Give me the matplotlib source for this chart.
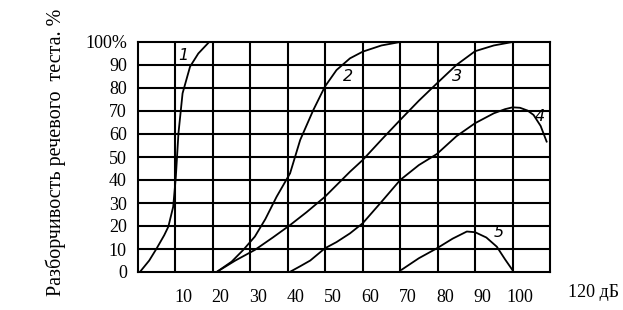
import matplotlib
matplotlib.use("Agg")
import matplotlib.pyplot as plt

# curves (dB, %)
x1 = [0.5, 3, 5, 7, 8.1, 9.4, 10.1, 10.8, 11.9, 13.9, 16.1, 19.0]
y1 = [0, 5, 10.3, 16, 19.7, 28.4, 41.4, 60.3, 77.7, 89.3, 95, 100]

x2 = [21, 25, 28.1, 31.2, 34, 37, 40.6, 43.3, 46.8, 49.9, 53, 56.6, 60, 65, 70]
y2 = [0, 4.5, 9.6, 15.4, 23, 32.7, 42.9, 57.4, 70.4, 80.6, 87.8, 92.9, 95.8, 98.5, 100]

x3 = [21, 26, 31.2, 36, 40.6, 45, 49.9, 56.6, 60, 65, 70, 75, 79.8, 85, 90, 95, 100]
y3 = [0, 5, 9.6, 15, 20.4, 26, 32.7, 43.6, 48.7, 57.5, 66.1, 74.5, 82, 90, 96, 98.5, 100]

x4 = [40.5, 43.3, 46, 49.9, 53, 56.6, 60, 65, 70, 75, 79.8, 85, 90, 95, 98, 100, 102, 104, 105.6, 107.5, 109.1]
y4 = [0, 2.5, 5, 10.3, 13, 16.8, 21.2, 30.5, 40, 46.5, 51.3, 59, 64.7, 69, 70.8, 71.6, 71.4, 70.2, 68.3, 63.5, 56.7]

x5 = [70.4, 75, 79.8, 84, 87.8, 90, 93, 95.8, 98, 100]
y5 = [1, 6, 10.3, 14.5, 17.6, 17.3, 15, 11, 5.5, 0.8]

curve_labels = ["1", "2", "3", "4", "5"]
label_x = [12.0, 56.1, 85.2, 107.3, 96.4]
label_y = [94.3, 84.8, 84.8, 67.4, 17.0]

x_ticks = [10, 20, 30, 40, 50, 60, 70, 80, 90, 100]
x_ticklabels = ["10", "20", "30", "40", "50", "60", "70", "80", "90", "100"]
y_ticks = [0, 10, 20, 30, 40, 50, 60, 70, 80, 90, 100]
y_ticklabels = ["0", "10", "20", "30", "40", "50", "60", "70", "80", "90", "100%"]

serif = "Liberation Serif"

fig = plt.figure(figsize=(6.23, 3.10), dpi=100)
ax = fig.add_axes([138 / 623, 38 / 310, 412 / 623, 230 / 310])

ax.set_xlim(0, 110)
ax.set_ylim(0, 100)

# grid drawn by hand-like black lines
for gx in range(10, 110, 10):
    ax.axvline(gx, color="black", lw=1.5, zorder=1)
for gy in y_ticks[1:-1]:
    ax.axhline(gy, color="black", lw=1.5, zorder=1)
for s in ax.spines.values():
    s.set_linewidth(1.5)

for xs, ys in [(x1, y1), (x2, y2), (x3, y3), (x4, y4), (x5, y5)]:
    ax.plot(xs, ys, color="black", lw=1.3, zorder=2)

for t, lx, ly in zip(curve_labels, label_x, label_y):
    ax.text(lx, ly, t, fontsize=11.5, style="italic", family="DejaVu Sans",
            ha="center", va="center", zorder=3)

ax.set_xticks([v + 2 for v in x_ticks])
ax.set_xticklabels(x_ticklabels, family=serif, fontsize=13)
ax.set_yticks(y_ticks)
ax.set_yticklabels(y_ticklabels, family=serif, fontsize=13)
ax.tick_params(length=0, pad=8)
ax.tick_params(axis="x", pad=12)

ax.text(1.0, -0.09, "    120 дБ", transform=ax.transAxes, family=serif,
        fontsize=13, ha="left", va="center")

fig.text(56 / 623, 0.51, "Разборчивость речевого  теста. %", rotation=90,
         family=serif, fontsize=14.5, ha="center", va="center")

fig.savefig("out.png", dpi=100)
